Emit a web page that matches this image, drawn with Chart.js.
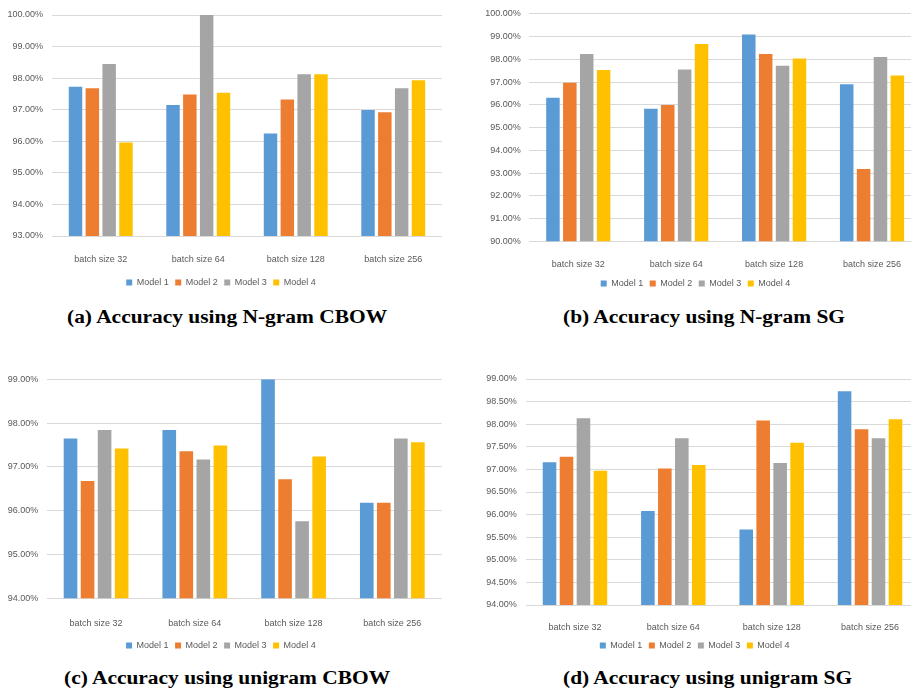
<!DOCTYPE html>
<html>
<head>
<meta charset="utf-8">
<script src="https://cdn.jsdelivr.net/npm/chart.js@4.4.1/dist/chart.umd.min.js"></script>
<style>
  html, body { margin: 0; padding: 0; background: #fff; width: 911px; height: 695px; overflow: hidden; position: relative; }
  canvas { position: absolute; }
  .cap { position: absolute; font-family: "Liberation Serif", "Times New Roman", serif; font-weight: bold;
         font-size: 18px; line-height: 18px; white-space: nowrap; transform-origin: 0 0; transform: scaleX(1.19); color: #000; }
</style>
</head>
<body>
<canvas id="chartA"></canvas>
<canvas id="chartB"></canvas>
<canvas id="chartC"></canvas>
<canvas id="chartD"></canvas>
<div class="cap" style="left:67px;top:307.6px">(a) Accuracy using N-gram CBOW</div>
<div class="cap" style="left:563px;top:307.6px">(b) Accuracy using N-gram SG</div>
<div class="cap" style="left:64px;top:669px">(c) Accuracy using unigram CBOW</div>
<div class="cap" style="left:563px;top:669px">(d) Accuracy using unigram SG</div>
<script>
// Categories and series names
const batchSizes = ['batch size 32', 'batch size 64', 'batch size 128', 'batch size 256'];
const modelNames = ['Model 1', 'Model 2', 'Model 3', 'Model 4'];
const modelColors = ['#5B9BD5', '#ED7D31', '#A5A5A5', '#FFC000'];

// (a) N-gram CBOW accuracy (%)
const ngramCbowM1 = [97.73, 97.15, 96.25, 96.99];
const ngramCbowM2 = [97.68, 97.48, 97.32, 96.92];
const ngramCbowM3 = [98.45, 100.00, 98.12, 97.68];
const ngramCbowM4 = [95.96, 97.54, 98.12, 97.93];
const ngramCbowAxis = [93, 100, 1];   // min, max, step

// (b) N-gram SG accuracy (%)
const ngramSgM1 = [96.31, 95.83, 99.09, 96.91];
const ngramSgM2 = [96.97, 95.99, 98.24, 93.18];
const ngramSgM3 = [98.24, 97.56, 97.72, 98.11];
const ngramSgM4 = [97.53, 98.68, 98.04, 97.29];
const ngramSgAxis = [90, 100, 1];

// (c) unigram CBOW accuracy (%)
const unigramCbowM1 = [97.65, 97.84, 99.00, 96.18];
const unigramCbowM2 = [96.68, 97.36, 96.72, 96.18];
const unigramCbowM3 = [97.84, 97.17, 95.76, 97.65];
const unigramCbowM4 = [97.42, 97.49, 97.24, 97.56];
const unigramCbowAxis = [94, 99, 1];

// (d) unigram SG accuracy (%)
const unigramSgM1 = [97.16, 96.08, 95.67, 98.73];
const unigramSgM2 = [97.28, 97.02, 98.08, 97.89];
const unigramSgM3 = [98.13, 97.69, 97.14, 97.69];
const unigramSgM4 = [96.97, 97.10, 97.59, 98.11];
const unigramSgAxis = [94, 99, 0.5];

const textColor = '#595959';
const smallFont = { family: '"Liberation Sans", Arial, sans-serif', size: 9 };

function drawPanel(id, box, axis, series) {
  const cv = document.getElementById(id);
  cv.width = box.w;
  cv.height = box.h;
  cv.style.left = box.x + 'px';
  cv.style.top = box.y + 'px';
  return new Chart(cv, {
    type: 'bar',
    data: {
      labels: batchSizes,
      datasets: series.map((values, i) => ({
        label: modelNames[i],
        data: values,
        backgroundColor: modelColors[i],
        borderWidth: 0,
        categoryPercentage: 0.69,
        barPercentage: 0.8
      }))
    },
    options: {
      responsive: false,
      animation: false,
      devicePixelRatio: 1,
      layout: { padding: { left: 0, right: box.padR, top: box.padT, bottom: 0 } },
      plugins: {
        legend: {
          position: 'bottom',
          labels: { boxWidth: 6, boxHeight: 6, padding: 6.5, color: textColor, font: smallFont }
        },
        tooltip: { enabled: false }
      },
      scales: {
        x: {
          grid: { display: false },
          border: { display: false },
          ticks: { color: textColor, font: smallFont, padding: box.xPad, maxRotation: 0 },
          afterFit: s => { s.height = box.xH; }
        },
        y: {
          min: axis[0],
          max: axis[1],
          ticks: {
            stepSize: axis[2],
            color: textColor,
            font: smallFont,
            padding: box.yPad,
            callback: v => Number(v).toFixed(2) + '%'
          },
          grid: { color: '#D9D9D9', lineWidth: 1, drawTicks: false },
          border: { display: false },
          afterFit: s => { s.width = box.yW; }
        }
      }
    }
  });
}

drawPanel('chartA', { x: 0, y: 0, w: 461, h: 297, yW: 52, padR: 19, padT: 15, xPad: 10.6, xH: 35.5, yPad: 9 },
  ngramCbowAxis, [ngramCbowM1, ngramCbowM2, ngramCbowM3, ngramCbowM4]);
drawPanel('chartB', { x: 470, y: 0, w: 478, h: 298, yW: 59.3, padR: 27, padT: 13.7, xPad: 10, xH: 31.2, yPad: 8.5 },
  ngramSgAxis, [ngramSgM1, ngramSgM2, ngramSgM3, ngramSgM4]);
drawPanel('chartC', { x: 0, y: 360, w: 457, h: 300, yW: 46.7, padR: 15.3, padT: 19.3, xPad: 12, xH: 36.2, yPad: 8.4 },
  unigramCbowAxis, [unigramCbowM1, unigramCbowM2, unigramCbowM3, unigramCbowM4]);
drawPanel('chartD', { x: 470, y: 360, w: 477, h: 300, yW: 55.8, padR: 27.8, padT: 19, xPad: 8.9, xH: 29.5, yPad: 9 },
  unigramSgAxis, [unigramSgM1, unigramSgM2, unigramSgM3, unigramSgM4]);
</script>
</body>
</html>
